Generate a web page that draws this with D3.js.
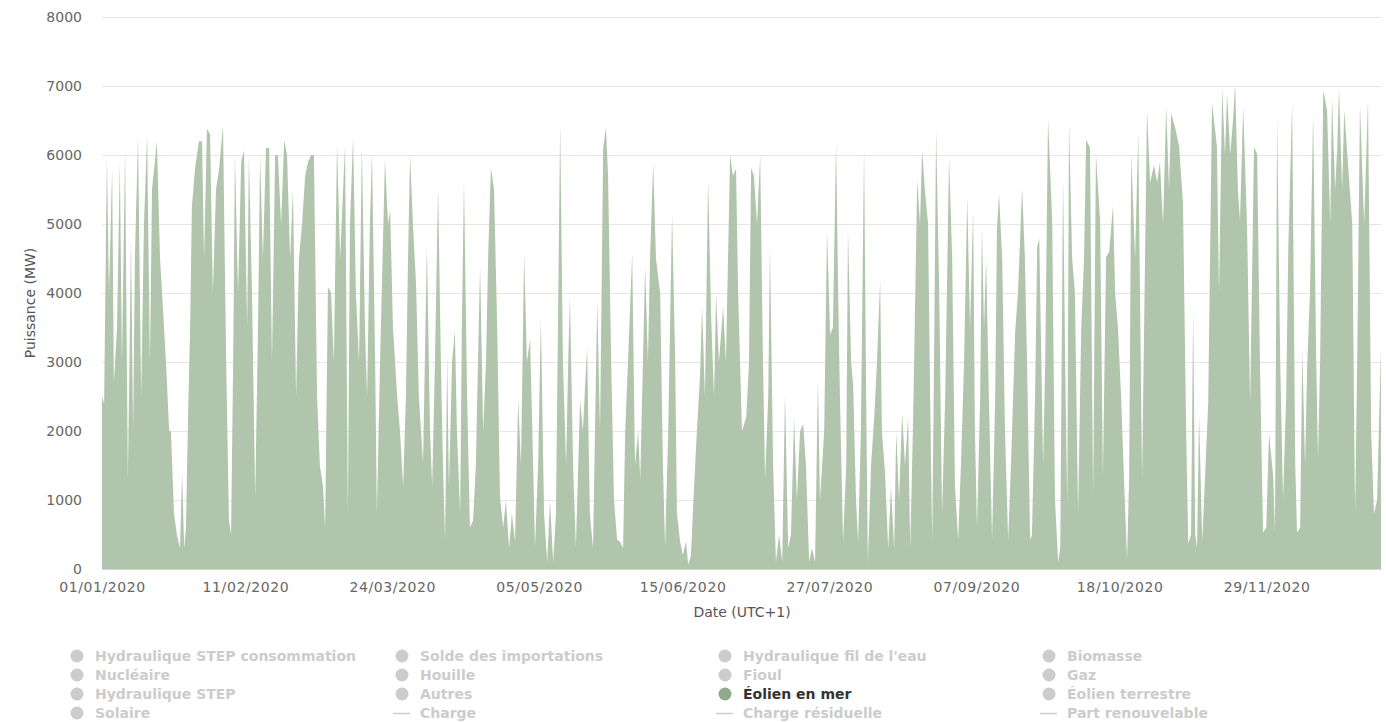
<!DOCTYPE html>
<html>
<head>
<meta charset="utf-8">
<script src="https://cdn.jsdelivr.net/npm/d3@7"></script>
<style>
  html, body { margin: 0; padding: 0; background: #ffffff; }
  svg { display: block; font-family: "DejaVu Sans", "Lucida Grande", sans-serif; }
</style>
</head>
<body>
<svg id="chart" width="1386" height="722"></svg>
<script>
// ---- Data ----
// Time in days since 01/01/2020 00:00 (UTC+1)
const dayOfYear = [
0.0,0.6,1.4,2.0,2.9,3.4,4.3,5.1,5.7,6.6,7.4,8.3,8.9,9.4,10.3,11.2,12.0,12.9,13.7,14.3,15.7,16.6,17.4,18.3,19.2,19.7,20.6,21.4,22.3,22.9,23.5,24.0,24.6,25.2,25.7,26.6,27.7,28.6,29.2,30.0,30.9,31.7,32.6,33.5,34.6,35.5,36.3,36.9,37.5,38.0,38.9,39.8,40.6,41.5,42.0,42.9,43.8,44.6,45.2,46.0,46.9,47.8,48.6,49.5,50.3,51.2,52.1,52.9,53.8,54.6,55.5,56.3,57.2,58.1,58.9,59.8,60.6,61.5,62.3,63.2,63.8,64.6,65.5,
66.3,67.2,68.1,69.5,70.3,70.9,71.8,72.6,73.5,74.3,75.2,75.8,76.6,77.2,78.1,78.6,79.5,80.9,81.8,82.4,83.2,84.4,85.2,86.1,86.9,87.5,88.1,88.9,89.8,90.6,91.8,92.9,93.8,94.4,95.2,96.1,96.9,97.5,98.1,98.7,99.2,100.1,100.9,101.5,102.4,102.9,103.5,104.4,105.2,106.1,106.9,107.5,108.1,109.0,109.8,110.4,111.2,112.1,113.0,113.8,114.7,115.5,116.4,117.2,118.1,119.0,119.8,120.7,121.5,122.4,123.3,123.8,124.7,125.5,126.4,127.3,128.1,129.0,129.8,131.0,131.8,132.7,
133.3,133.8,134.7,135.5,136.7,137.5,138.7,139.5,140.4,141.6,142.4,143.3,144.1,144.7,145.6,146.4,147.3,148.1,149.0,149.6,150.4,151.6,152.4,153.3,153.9,155.3,156.1,156.7,157.6,158.4,159.6,160.4,161.0,161.9,163.0,163.9,164.4,165.3,166.1,167.0,167.6,168.4,169.3,170.1,171.0,171.6,172.4,173.3,174.2,175.0,175.6,176.4,177.6,178.4,179.6,180.4,181.3,181.9,183.0,184.2,185.0,185.6,186.4,187.3,188.2,189.0,189.6,190.5,191.0,191.9,192.7,193.6,194.5,195.3,196.2,197.0,197.9,198.7,199.6,200.5,
201.3,202.2,203.0,203.9,204.7,205.3,206.5,207.3,208.2,209.0,209.9,210.5,211.0,211.9,212.8,213.3,214.2,214.8,215.6,216.2,217.0,217.9,218.5,219.0,219.9,220.8,221.6,222.5,223.0,223.9,224.8,225.6,226.5,227.1,227.9,228.8,229.6,230.5,231.1,231.9,233.1,233.9,234.5,235.3,236.2,236.8,237.4,237.9,238.5,239.4,240.2,241.1,242.2,243.1,243.9,244.8,245.6,246.5,247.4,248.2,249.1,249.6,250.2,251.1,251.6,252.2,252.8,253.6,254.5,255.4,255.9,256.5,257.4,258.2,259.1,259.9,261.1,261.9,263.1,263.9,264.5,265.4,265.9,266.8,267.4,
268.0,269.1,269.7,270.5,271.7,272.5,273.4,274.0,274.8,275.4,276.0,276.5,277.4,278.2,279.1,280.0,280.8,281.4,282.5,283.4,284.2,285.4,286.2,287.1,288.0,289.1,289.7,290.5,291.4,292.3,293.1,293.7,294.3,295.4,296.3,297.4,298.8,299.7,300.8,301.7,302.5,303.4,304.3,305.1,305.7,306.8,308.0,309.1,310.0,310.6,311.4,312.0,312.6,313.1,313.7,314.6,315.4,316.3,317.4,318.8,319.4,320.3,321.1,321.7,322.6,323.4,324.0,324.8,325.4,326.3,327.4,328.3,329.4,330.3,331.1,332.0,332.9,333.7,334.9,
335.4,336.0,336.9,337.7,338.6,339.2,340.3,341.2,341.7,342.6,343.2,344.0,344.6,345.4,346.3,347.2,347.7,348.3,349.2,350.3,351.2,351.7,352.6,353.2,353.7,354.6,355.2,356.3,357.5,358.3,358.9,359.7,360.9,362.0,362.9,363.7,364.6,365.7
];
// Offshore wind power, MW
const eolienEnMerMW = [
2500,2400,5990,4000,5800,2700,3500,5900,3000,6070,1300,4800,2000,4500,6260,2500,5000,6290,3000,5500,6200,4500,3800,3000,2000,2000,800,500,300,1400,300,600,2200,3500,5250,5800,6200,6200,4500,6380,6300,4000,5500,5800,6430,3000,700,500,3000,6000,4000,5900,6070,3500,6000,4000,1040,3500,6000,4500,6100,6100,3000,6000,6000,5000,6220,6000,4500,5500,2500,4500,5000,5700,5900,6000,6000,2500,1500,1200,600,4090,4000,
3000,6150,4500,6150,800,5000,6260,4000,3000,6130,3500,2500,5000,6030,3000,800,3000,5930,5000,5200,3500,2500,2000,1200,2500,4500,6000,5000,4130,2500,1540,4670,2000,1200,3000,5540,3000,1500,420,3090,1200,3000,3460,2000,800,3500,5640,2500,600,700,1500,3000,4380,2000,3000,4500,5810,5500,3500,1040,600,1000,300,800,400,2450,1500,4580,3000,3330,1500,320,1500,3640,800,100,1000,100,800,6480,3000,1500,
3000,3950,1500,320,2450,2000,3220,800,300,3900,2000,6100,6400,5700,3000,1000,420,400,300,2000,3000,4580,1500,2000,1300,4380,3000,4500,5880,4500,4000,1500,320,2000,5160,3000,800,400,200,400,60,200,1200,2000,2800,3800,2500,5660,3620,2500,4000,3000,3800,3000,6000,5700,5800,4000,2000,2200,3000,5810,5700,5000,6000,3000,1300,2500,4670,1500,100,500,100,2550,300,500,2200,1000,2000,2100,
1500,100,300,100,2740,1000,2000,4910,3400,3500,6190,4000,2500,400,1500,4910,3000,2650,1000,400,2000,6120,2500,100,1500,2200,3000,4190,2000,1400,300,1200,300,2000,1000,2260,1500,2200,300,2100,5640,5000,6070,5500,5000,2500,400,3000,6360,4000,800,2500,5960,4500,1200,420,1500,3000,5390,3500,5200,2000,600,2500,4970,3500,4490,2500,420,2500,4930,5440,4500,2000,420,1500,3430,4000,5520,4500,3000,420,500,2500,4670,
4790,1500,3000,6540,5050,1000,100,300,5690,3000,900,6490,4500,4000,800,3500,4500,6220,6100,1060,6010,5050,1330,4520,4600,5270,4000,3500,2500,1200,150,1330,6010,4500,6330,1300,6650,5600,5850,5600,5900,5000,6700,5500,6600,6410,6120,5300,2000,370,500,3780,500,300,2230,400,1330,2400,6760,6120,4000,6970,6000,6890,6010,6500,7020,5500,5050,6700,5000,2400,6120,6010,3000,530,600,1970,1330,
530,6540,3000,1000,2500,4630,6760,1500,530,600,3190,1500,2930,3990,6600,3000,1600,3000,6940,6650,5000,6830,5500,6100,6970,5500,6650,5850,5000,800,3000,6730,5000,6810,2000,800,1000,3220
];
const yTickValues = [0, 1000, 2000, 3000, 4000, 5000, 6000, 7000, 8000];
const xTickLabels = ["01/01/2020","11/02/2020","24/03/2020","05/05/2020","15/06/2020","27/07/2020","07/09/2020","18/10/2020","29/11/2020"];
const yAxisTitle = "Puissance (MW)";
const xAxisTitle = "Date (UTC+1)";
// Legend, in reading order (4 columns)
const legendNames = [
  "Hydraulique STEP consommation","Solde des importations","Hydraulique fil de l'eau","Biomasse",
  "Nucléaire","Houille","Fioul","Gaz",
  "Hydraulique STEP","Autres","Éolien en mer","Éolien terrestre",
  "Solaire","Charge","Charge résiduelle","Part renouvelable"
];
const legendKinds = [
  "area","area","area","area",
  "area","area","area","area",
  "area","area","area","area",
  "area","line","line","line"
];
const legendVisible = ["Éolien en mer"];

// ---- Chart ----
const FONT = '"DejaVu Sans", "Lucida Grande", sans-serif';
const svg = d3.select("#chart");
const W = 1386, H = 722;
const plot = { left: 102, right: 1382, top: 17, bottom: 569 };
const fillColor = "#b1c5ac";
const markerColor = "#8daa89";

const t0 = Date.UTC(2020, 0, 1);
const series = dayOfYear.map((d, i) => ({ date: new Date(t0 + d * 86400000), value: eolienEnMerMW[i] }));

const x = d3.scaleUtc()
  .domain([new Date(t0), new Date(Date.UTC(2021, 0, 1))])
  .range([plot.left, plot.right]);
const y = d3.scaleLinear().domain([0, 8000]).range([plot.bottom, plot.top]);

svg.append("rect").attr("width", W).attr("height", H).attr("fill", "#fff");

// grid
svg.append("g").selectAll("line").data(yTickValues).join("line")
  .attr("x1", plot.left).attr("x2", plot.right)
  .attr("y1", d => Math.round(y(d)) + 0.5).attr("y2", d => Math.round(y(d)) + 0.5)
  .attr("stroke", "#e6e6e6").attr("stroke-width", 1);

// area
const area = d3.area()
  .x(d => x(d.date))
  .y0(y(0))
  .y1(d => y(d.value));
svg.append("path").datum(series)
  .attr("d", area)
  .attr("fill", fillColor);

// y axis labels
const yAxis = d3.axisLeft(y).tickValues(yTickValues).tickSize(0).tickPadding(0).tickFormat(d3.format("d"));
const gy = svg.append("g").attr("transform", `translate(${plot.left - 20},0)`).call(yAxis)
  .attr("font-family", FONT);
gy.select(".domain").remove();
gy.selectAll("text").attr("fill", "#666").style("font-size", "14px").attr("dy", "0.35em");

// x axis
const parseTick = d3.utcParse("%d/%m/%Y");
const xTicks = xTickLabels.map(parseTick);
const xAxis = d3.axisBottom(x).tickValues(xTicks).tickSize(0).tickPadding(13).tickFormat(d3.utcFormat("%d/%m/%Y"));
const gx = svg.append("g").attr("transform", `translate(0,${plot.bottom})`).call(xAxis)
  .attr("font-family", FONT);
gx.select(".domain").remove();
gx.selectAll("text").attr("fill", "#666").style("font-size", "14px").style("letter-spacing", "0.6px");
svg.append("line")
  .attr("x1", plot.left).attr("x2", plot.right)
  .attr("y1", plot.bottom + 0.5).attr("y2", plot.bottom + 0.5)
  .attr("stroke", "#ccd6eb");

// axis titles
svg.append("text")
  .attr("transform", `translate(35,${(plot.top + plot.bottom) / 2 + 10}) rotate(-90)`)
  .attr("text-anchor", "middle").attr("fill", "#555").style("font-size", "14px")
  .text(yAxisTitle);
svg.append("text")
  .attr("x", (plot.left + plot.right) / 2).attr("y", 617)
  .attr("text-anchor", "middle").attr("fill", "#555").style("font-size", "14px")
  .text(xAxisTitle);

// legend
const colX = [77, 402, 725, 1049];
const rowY = [656, 675, 694, 713];
const lg = svg.append("g").selectAll("g").data(legendNames).join("g")
  .attr("transform", (d, i) => `translate(${colX[i % 4]},${rowY[Math.floor(i / 4)]})`);
lg.each(function (d, i) {
  const g = d3.select(this);
  const on = legendVisible.includes(d);
  const col = on ? markerColor : "#cccccc";
  if (legendKinds[i] === "line") {
    g.append("line").attr("x1", -9).attr("x2", 8).attr("y1", 0.5).attr("y2", 0.5)
      .attr("stroke", "#cccccc").attr("stroke-width", 1.5);
  } else {
    g.append("circle").attr("r", 6.5).attr("fill", col);
  }
  g.append("text").attr("x", 18).attr("dy", "0.35em")
    .attr("fill", on ? "#333333" : "#cccccc")
    .style("font-size", "14px").style("font-weight", "bold")
    .text(d);
});
</script>
</body>
</html>
